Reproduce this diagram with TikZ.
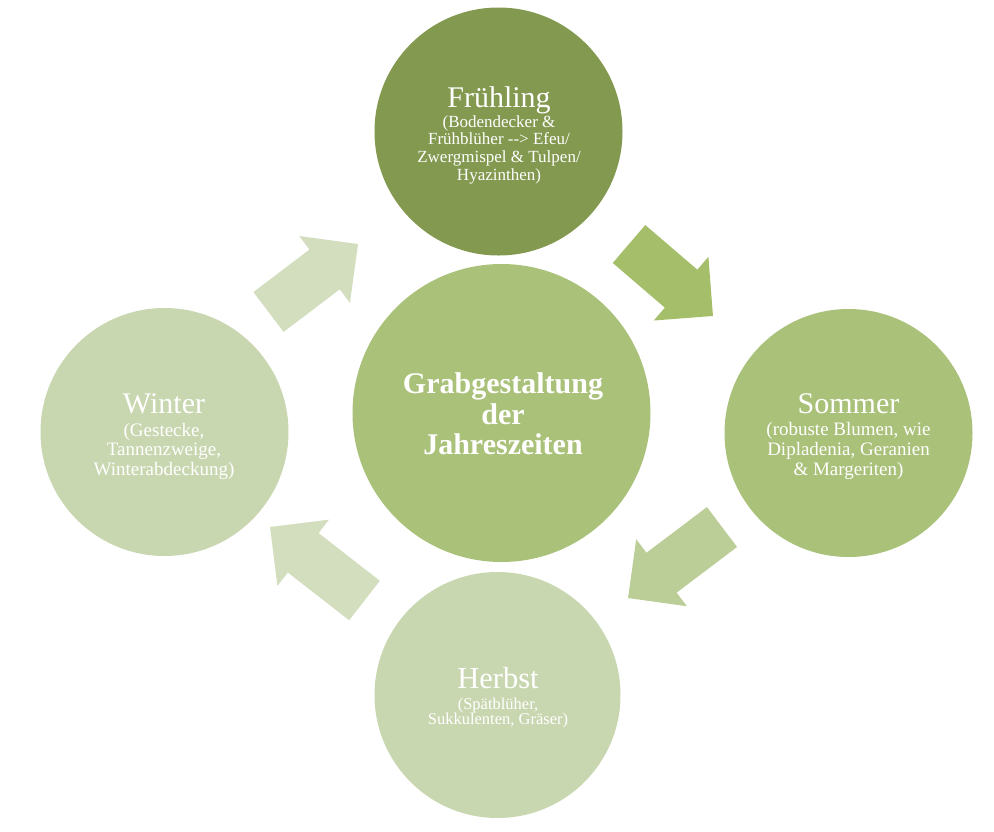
\documentclass[tikz,border=0pt]{standalone}
\usepackage{fontspec}
\setmainfont{Liberation Serif}
\definecolor{cSpring}{HTML}{83994F}
\definecolor{cMid}{HTML}{AAC17A}
\definecolor{cPale}{HTML}{C9D7B1}
\definecolor{aOne}{HTML}{A5BE6A}
\definecolor{aTwo}{HTML}{BCCE97}
\definecolor{aPale}{HTML}{D3DEBF}
\begin{document}
\begin{tikzpicture}[x=1pt,y=1pt,
  disc/.style={circle, inner sep=0pt, draw=none},
  ttl/.style={text=white, font=\fontsize{30}{30}\selectfont, anchor=base, inner sep=0pt},
  subtxt/.style={text=white, align=center, anchor=north, inner sep=0pt},
  blockarrow/.style={draw=none}]
\useasboundingbox (0,0) rectangle (994,-831);
% circles
\node[disc, fill=cSpring, minimum size=248pt] (fr) at (498.5,-131.5) {};
\node[disc, fill=cMid, minimum size=248pt] (so) at (848.5,-433) {};
\node[disc, fill=cPale, minimum size=246pt] (he) at (497.5,-695) {};
\node[disc, fill=cPale, minimum size=248pt] (wi) at (164.5,-432) {};
\node[disc, fill=cMid, minimum size=298pt] (ce) at (501.5,-413) {};
% block arrows
\newcommand{\blockarr}[4]{%
  \begin{scope}[shift={(#1)}, rotate=#2]
    \fill[blockarrow, #4] (0,25) -- ({#3-42},25) -- ({#3-42},42) -- (#3,0)
      -- ({#3-42},-42) -- ({#3-42},-25) -- (0,-25) -- cycle;
  \end{scope}}
\blockarr{629,-244}{-40.6}{110.6}{fill=aOne}
\blockarr{722,-527}{-142.9}{117.8}{fill=aTwo}
\blockarr{364.5,-600.5}{142.1}{119.7}{fill=aPale}
\blockarr{268.5,-312}{37.2}{112.4}{fill=aPale}
% texts
\node[ttl] (frT) at (499,-107) {Frühling};
\node[subtxt, font=\fontsize{17}{17.7}\selectfont] (frS) at (499,-115.2)
  {(Bodendecker \&\\Frühblüher -\kern0pt-\kern0pt> Efeu/\\Zwergmispel \& Tulpen/\\Hyazinthen)};
\node[ttl] (soT) at (848.5,-413) {Sommer};
\node[subtxt, font=\fontsize{19}{20}\selectfont] (soS) at (848.5,-421.8)
  {(robuste Blumen, wie\\Dipladenia, Geranien\\\& Margeriten)};
\node[ttl] (wiT) at (164,-413) {Winter};
\node[subtxt, font=\fontsize{19}{19.5}\selectfont] (wiS) at (164,-422.8)
  {(Gestecke,\\Tannenzweige,\\Winterabdeckung)};
\node[ttl, font=\fontsize{30.5}{30.5}\selectfont] (heT) at (498,-688) {Herbst};
\node[subtxt, font=\fontsize{16.5}{15.5}\selectfont] (heS) at (498,-697.5)
  {(Spätblüher,\\Sukkulenten, Gräser)};
\node[subtxt, font=\bfseries\fontsize{30}{30.5}\selectfont] (ceT) at (503,-372.5)
  {Grabgestaltung\\der\\Jahreszeiten};
\end{tikzpicture}
\end{document}
